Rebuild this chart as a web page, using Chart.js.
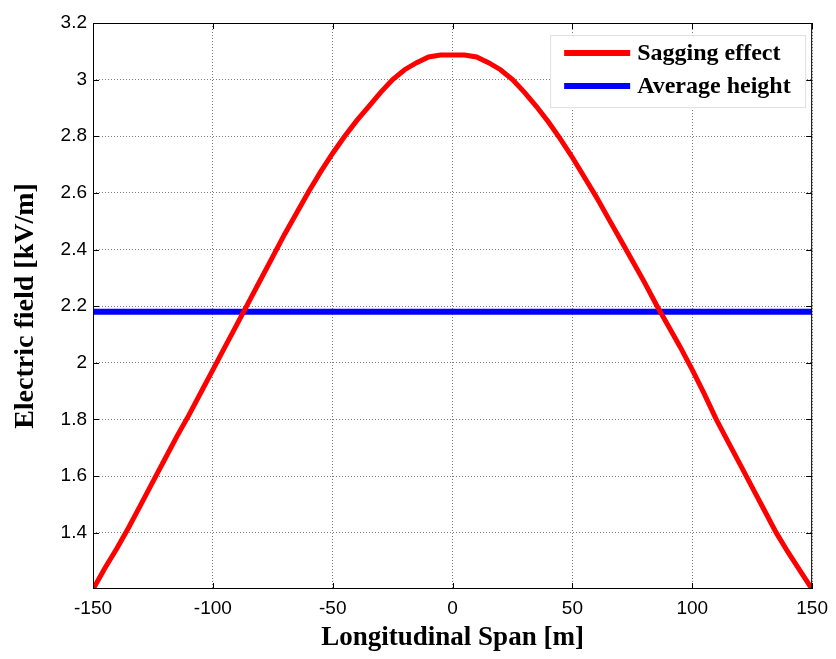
<!DOCTYPE html>
<html>
<head>
<meta charset="utf-8">
<script src="https://cdn.jsdelivr.net/npm/chart.js@4.4.1/dist/chart.umd.min.js"></script>
<style>
  html, body { margin: 0; padding: 0; background: #ffffff; }
  #wrap { width: 836px; height: 659px; }
</style>
</head>
<body>
<div id="wrap"><canvas id="chart" width="836" height="659"></canvas></div>
<script>
// Longitudinal positions along the span [m]
const spanX = [
  -150, -145, -140, -135, -130, -125, -120, -115, -110, -105,
  -100, -95, -90, -85, -80, -75, -70, -65, -60, -55,
  -50, -45, -40, -35, -30, -25, -20, -15, -10, -5,
  0, 5, 10, 15, 20, 25, 30, 35, 40, 45,
  50, 55, 60, 65, 70, 75, 80, 85, 90, 95,
  100, 105, 110, 115, 120, 125, 130, 135, 140, 145, 150,
];

// Electric field with sagging effect [kV/m]
const saggingField = [
  1.20, 1.275, 1.345, 1.42, 1.50, 1.58, 1.66, 1.74, 1.815, 1.895,
  1.975, 2.055, 2.135, 2.215, 2.295, 2.375, 2.455, 2.53, 2.605, 2.675,
  2.74, 2.80, 2.855, 2.905, 2.955, 3.00, 3.035, 3.06, 3.08, 3.087,
  3.087, 3.087, 3.08, 3.06, 3.035, 3.00, 2.955, 2.905, 2.85, 2.79,
  2.725, 2.655, 2.585, 2.51, 2.435, 2.36, 2.285, 2.205, 2.13, 2.055,
  1.975, 1.89, 1.80, 1.72, 1.64, 1.56, 1.48, 1.40, 1.33, 1.265, 1.20,
];

// Electric field at average conductor height [kV/m]
const averageX = [-150, 150];
const averageField = [2.18, 2.18];

// Tick labels
const xTicks = [-150, -100, -50, 0, 50, 100, 150];
const yTicks = [1.4, 1.6, 1.8, 2, 2.2, 2.4, 2.6, 2.8, 3, 3.2];

const seriesNames = ["Sagging effect", "Average height"];
const seriesColors = ["#ff0000", "#0000ff"];

const tickFont = { family: "'Liberation Sans', Arial, sans-serif", size: 19 };
const serif = "'Liberation Serif', 'Times New Roman', serif";

// Box around the axes, inward tick marks and the legend (MATLAB style)
const matlabFrame = {
  id: "matlabFrame",
  afterDraw(chart) {
    const { ctx, chartArea: a, scales } = chart;
    ctx.save();
    ctx.strokeStyle = "#000000";
    ctx.lineWidth = 1;
    ctx.strokeRect(a.left + 0.5, a.top + 0.5, a.right - a.left - 1, a.bottom - a.top - 1);

    const len = 6;
    ctx.beginPath();
    xTicks.forEach((v) => {
      const px = Math.round(scales.x.getPixelForValue(v)) + 0.5;
      ctx.moveTo(px, a.bottom); ctx.lineTo(px, a.bottom - len);
      ctx.moveTo(px, a.top); ctx.lineTo(px, a.top + len);
    });
    yTicks.forEach((v) => {
      const py = Math.round(scales.y.getPixelForValue(v)) + 0.5;
      ctx.moveTo(a.left, py); ctx.lineTo(a.left + len, py);
      ctx.moveTo(a.right, py); ctx.lineTo(a.right - len, py);
    });
    ctx.stroke();

    // Legend
    const lx = a.right - 262, ly = a.top + 12, lw = 255, lh = 72;
    ctx.fillStyle = "#ffffff";
    ctx.fillRect(lx, ly, lw, lh);
    ctx.strokeStyle = "#e0e0e0";
    ctx.strokeRect(lx + 0.5, ly + 0.5, lw, lh);
    ctx.font = "bold 24px " + serif;
    ctx.textBaseline = "middle";
    seriesNames.forEach((name, i) => {
      const y = ly + 18 + i * 33;
      ctx.strokeStyle = seriesColors[i];
      ctx.lineWidth = 6;
      ctx.beginPath();
      ctx.moveTo(lx + 14, y);
      ctx.lineTo(lx + 80, y);
      ctx.stroke();
      ctx.fillStyle = "#000000";
      ctx.fillText(name, lx + 87, y + 1);
    });
    ctx.restore();
  },
};

new Chart(document.getElementById("chart").getContext("2d"), {
  type: "line",
  data: {
    datasets: [
      {
        label: seriesNames[0],
        data: spanX.map((x, i) => ({ x: x, y: saggingField[i] })),
        borderColor: seriesColors[0],
        borderWidth: 5,
        pointRadius: 0,
        tension: 0,
      },
      {
        label: seriesNames[1],
        data: averageX.map((x, i) => ({ x: x, y: averageField[i] })),
        borderColor: seriesColors[1],
        borderWidth: 6,
        pointRadius: 0,
        tension: 0,
      },
    ],
  },
  options: {
    responsive: false,
    animation: false,
    devicePixelRatio: 1,
    layout: { padding: { top: 23, right: 21, bottom: 0, left: 0 } },
    plugins: {
      legend: { display: false },
      tooltip: { enabled: false },
    },
    scales: {
      x: {
        type: "linear",
        min: -150,
        max: 150,
        afterBuildTicks: (scale) => {
          scale.ticks = xTicks.map((v) => ({ value: v }));
        },
        afterFit: (scale) => {
          scale.height = 70;
        },
        ticks: {
          font: tickFont,
          color: "#000000",
          padding: 8,
          maxRotation: 0,
          callback: (v) => String(v),
        },
        grid: {
          color: "rgba(0,0,0,0.5)",
          drawTicks: false,
          lineWidth: 1,
        },
        border: { display: false, dash: [1, 2] },
        title: {
          display: true,
          text: "Longitudinal Span [m]",
          font: { family: serif, size: 27, weight: "bold" },
          color: "#000000",
          padding: { top: 0, bottom: 5 },
        },
      },
      y: {
        min: 1.201,
        max: 3.2,
        afterBuildTicks: (scale) => {
          scale.ticks = yTicks.map((v) => ({ value: v }));
        },
        afterFit: (scale) => {
          scale.width = 93;
        },
        ticks: {
          font: tickFont,
          color: "#000000",
          padding: 6,
          callback: (v) => String(Math.round(v * 10) / 10),
        },
        grid: {
          color: "rgba(0,0,0,0.5)",
          drawTicks: false,
          lineWidth: 1,
        },
        border: { display: false, dash: [1, 2] },
        title: {
          display: true,
          text: "Electric field [kV/m]",
          font: { family: serif, size: 28, weight: "bold" },
          color: "#000000",
          padding: { top: 9, bottom: 0 },
        },
      },
    },
  },
  plugins: [matlabFrame],
});
</script>
</body>
</html>
